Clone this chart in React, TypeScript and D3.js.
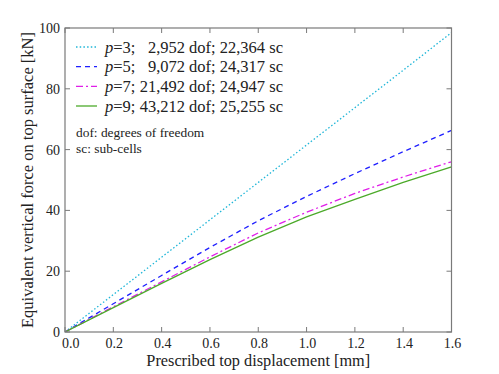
import React from "react";
import * as d3 from "d3";

const displacement = [0, 0.2, 0.4, 0.6, 0.8, 1.0, 1.2, 1.4, 1.6];
const forceP3 = [0, 12.3, 24.6, 36.9, 49.2, 61.5, 73.8, 86.1, 98.5];
const forceP5 = [0, 9.3, 18.6, 27.8, 36.6, 44.6, 52.1, 59.3, 66.3];
const forceP7 = [0, 8.3, 16.5, 24.7, 32.6, 39.4, 45.6, 51.0, 56.0];
const forceP9 = [0, 8.0, 16.0, 23.8, 31.2, 37.9, 43.6, 49.2, 54.3];
const xTicks = [0, 0.2, 0.4, 0.6, 0.8, 1.0, 1.2, 1.4, 1.6];
const yTicks = [0, 20, 40, 60, 80, 100];

const seriesNames = ["p=3", "p=5", "p=7", "p=9"];
const seriesDof = ["2,952", "9,072", "21,492", "43,212"];
const seriesSc = ["22,364", "24,317", "24,947", "25,255"];
const seriesValues = [forceP3, forceP5, forceP7, forceP9];
const seriesColors = ["#1fb6d8", "#1f1fff", "#e01fe8", "#4caa2a"];
const seriesDash = ["1.5,2.2", "5,4", "7,3,2,3", ""];

export default function App() {
  const W = 499, H = 374;
  const L = 65, R = 451.5, T = 28, B = 332;
  const x = d3.scaleLinear().domain([0, 1.6]).range([L, R]);
  const y = d3.scaleLinear().domain([0, 100]).range([B, T]);
  const line = d3
    .line<number>()
    .x((_, i) => x(displacement[i]))
    .y((v) => y(v));
  const font = "'Liberation Serif', 'Times New Roman', serif";
  const axisColor = "#7a7a7a";
  const legendY = [47, 66.7, 86.3, 106];
  return (
    <svg
      width={W}
      height={H}
      style={{ position: "absolute", left: 0, top: 0, background: "#fff" }}
      fontFamily={font}
    >
      <defs>
        <clipPath id="plot">
          <rect x={L} y={T} width={R - L} height={B - T} />
        </clipPath>
      </defs>
      {seriesValues.map((vals, k) => (
        <path
          key={k}
          d={line(vals) || ""}
          fill="none"
          stroke={seriesColors[k]}
          strokeWidth={1.3}
          strokeDasharray={seriesDash[k] || undefined}
          clipPath="url(#plot)"
        />
      ))}
      <rect x={L} y={T} width={R - L} height={B - T} fill="none" stroke={axisColor} strokeWidth={1.2} />
      {xTicks.map((t, i) => (
        <g key={"x" + i}>
          <line x1={x(t)} x2={x(t)} y1={B} y2={B - 5} stroke={axisColor} strokeWidth={1} />
          <line x1={x(t)} x2={x(t)} y1={T} y2={T + 5} stroke={axisColor} strokeWidth={1} />
          <text x={x(t) + (i === 0 ? 5.8 : 1)} y={B + 15.5} fontSize={14} textAnchor="middle" fill="#222">
            {d3.format(".1f")(t)}
          </text>
        </g>
      ))}
      {yTicks.map((t, i) => (
        <g key={"y" + i}>
          <line x1={L} x2={L + 5} y1={y(t)} y2={y(t)} stroke={axisColor} strokeWidth={1} />
          <line x1={R} x2={R - 5} y1={y(t)} y2={y(t)} stroke={axisColor} strokeWidth={1} />
          <text x={L - 5} y={y(t) + 5} fontSize={14} textAnchor="end" fill="#222">
            {t}
          </text>
        </g>
      ))}
      <text x={(L + R) / 2} y={365.5} fontSize={16.3} textAnchor="middle" fill="#222">
        Prescribed top displacement [mm]
      </text>
      <text
        transform={`translate(33, ${(T + B) / 2}) rotate(-90)`}
        fontSize={16.5}
        textAnchor="middle"
        fill="#222"
      >
        Equivalent vertical force on top surface [kN]
      </text>
      {seriesNames.map((n, k) => (
        <g key={"lg" + k}>
          <line
            x1={76}
            x2={97}
            y1={legendY[k]}
            y2={legendY[k]}
            stroke={seriesColors[k]}
            strokeWidth={1.3}
            strokeDasharray={seriesDash[k] || undefined}
          />
          <text x={105} y={legendY[k] + 5.5} fontSize={16.5} fill="#222">
            <tspan fontStyle="italic">p</tspan>
            {n.slice(1)};
          </text>
          <text x={185} y={legendY[k] + 5.5} fontSize={16.5} textAnchor="end" fill="#222">
            {seriesDof[k]}
          </text>
          <text x={189} y={legendY[k] + 5.5} fontSize={16.5} fill="#222">
            {`dof; ${seriesSc[k]} sc`}
          </text>
        </g>
      ))}
      <text x={76} y={137} fontSize={13.4} fill="#222">dof: degrees of freedom</text>
      <text x={76} y={153} fontSize={13.4} fill="#222">sc: sub-cells</text>
    </svg>
  );
}
